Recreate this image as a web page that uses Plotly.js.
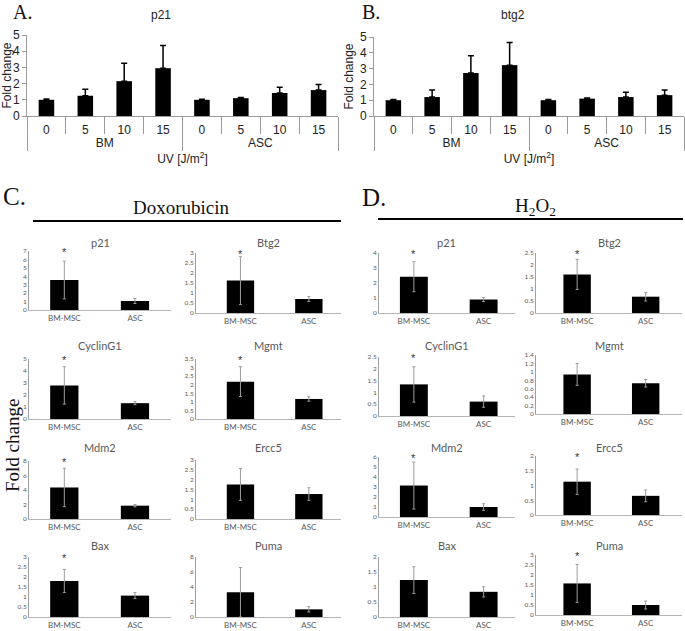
<!DOCTYPE html>
<html><head><meta charset="utf-8">
<script src="https://cdn.plot.ly/plotly-3.0.1.min.js"></script>
<style>html,body{margin:0;padding:0;background:#fff}#chart{width:685px;height:631px}</style>
</head><body><div id="chart"></div>
<script>
// ---------- DATA ----------
const uvGroups = ['BM','BM','BM','BM','ASC','ASC','ASC','ASC'];
const uvDoses  = ['0','5','10','15','0','5','10','15'];
const p21UV     = [1.0, 1.25, 2.15, 2.95, 1.0, 1.1, 1.42, 1.6];
const p21UVErr  = [0.05, 0.4, 1.1, 1.4, 0.04, 0.04, 0.36, 0.35];
const btg2UV    = [1.0, 1.2, 2.72, 3.22, 1.0, 1.1, 1.2, 1.32];
const btg2UVErr = [0.04, 0.45, 1.1, 1.43, 0.04, 0.04, 0.3, 0.33];

const cells = ['BM-MSC','ASC'];
const genes = ['p21','Btg2','CyclinG1','Mgmt','Mdm2','Ercc5','Bax','Puma'];

const doxBM     = [3.56, 1.62, 2.8, 2.18, 4.35, 1.76, 1.8, 3.3];
const doxBMErr  = [2.24, 1.2, 1.56, 0.87, 2.65, 0.81, 0.58, 3.3];
const doxASC    = [1.07, 0.7, 1.32, 1.17, 1.84, 1.27, 1.07, 1.02];
const doxASCErr = [0.3, 0.12, 0.13, 0.13, 0.16, 0.32, 0.15, 0.35];
const doxSig    = [true, true, true, true, true, false, true, false];
const doxYMax   = [7, 3, 5, 3.5, 8, 3, 3, 8];
const doxYStep  = [1, 0.5, 1, 0.5, 2, 0.5, 0.5, 2];

const h2BM      = [2.42, 1.61, 1.34, 0.94, 3.15, 1.13, 1.23, 1.58];
const h2BMErr   = [1.0, 0.63, 0.75, 0.26, 2.35, 0.43, 0.45, 0.95];
const h2ASC     = [0.9, 0.68, 0.61, 0.73, 1.0, 0.65, 0.84, 0.5];
const h2ASCErr  = [0.14, 0.18, 0.24, 0.09, 0.33, 0.2, 0.17, 0.2];
const h2Sig     = [true, true, true, false, true, true, false, true];
const h2YMax    = [4, 2.5, 2.5, 1.4, 6, 2, 2, 3];
const h2YStep   = [1, 0.5, 0.5, 0.2, 1, 0.5, 0.5, 0.5];

// ---------- LAYOUT GEOMETRY (pixels) ----------
const W = 685, H = 631;
const px = x => x / W, py = y => 1 - y / H;
const SANS = 'Liberation Sans', SERIF = 'Liberation Serif', CAL = 'Lato';
const GREY = '#595959';

const data = [];
const layout = {
  width: W, height: H, margin: {l: 0, r: 0, t: 0, b: 0},
  paper_bgcolor: '#fff', plot_bgcolor: 'rgba(0,0,0,0)', showlegend: false,
  font: {family: SANS, color: '#222'}, annotations: [], shapes: [], bargap: 0.6
};

function ann(o) { layout.annotations.push(Object.assign({showarrow: false, xref: 'paper', yref: 'paper'}, o)); }

// ---- UV panels A and B ----
function uvPanel(n, vals, errs, xd, yd, title, titleX) {
  const s = n === 1 ? '' : String(n);
  data.push({
    type: 'bar', x: [uvGroups, uvDoses], y: vals, xaxis: 'x' + s, yaxis: 'y' + s, width: 0.4,
    marker: {color: '#000', line: {width: 0}},
    error_y: {type: 'data', symmetric: false, array: errs, arrayminus: errs.map(() => 0),
              color: '#000', thickness: 1.5, width: 3},
    hoverinfo: 'skip'
  });
  layout['xaxis' + s] = {
    type: 'multicategory', domain: [px(xd[0]), px(xd[1])], anchor: 'y' + s,
    showline: true, linecolor: '#9a9a9a', linewidth: 1,
    ticks: 'outside', tickson: 'boundaries', ticklen: 17, tickcolor: '#9a9a9a', tickwidth: 1,
    ticklabelstandoff: 3,
    showdividers: true, dividercolor: '#9a9a9a', dividerwidth: 1,
    tickfont: {family: SANS, size: 12, color: '#222'}, showgrid: false,
    title: {text: 'UV [J/m<sup>2</sup>]', font: {family: SANS, size: 12, color: '#222'}, standoff: 5}
  };
  layout['yaxis' + s] = {
    domain: [py(yd[1]), py(yd[0])], anchor: 'x' + s, range: [0, 5.001], dtick: 1,
    showline: true, linecolor: '#9a9a9a', ticks: 'outside', ticklen: 4, tickcolor: '#9a9a9a',
    showgrid: false, zeroline: false, tickfont: {family: SANS, size: 12, color: '#222'},
    title: {text: 'Fold change', font: {family: SANS, size: 12, color: '#222'}, standoff: 3}
  };
  ann({x: px(titleX), y: py(15), text: title, font: {family: SANS, size: 12, color: '#222'}, xanchor: 'center', yanchor: 'middle'});
}
uvPanel(1, p21UV, p21UVErr, [27, 338], [35, 116], 'p21', 161);
uvPanel(2, btg2UV, btg2UVErr, [374, 684], [37, 116], 'btg2', 513);

// ---- small panels C and D ----
const doxCols = [[29, 171, -0.5, 1.51], [196, 341, -0.65, 1.47]];
const h2Cols  = [[379, 515, -0.5, 1.45], [536, 682, -0.6, 1.53]];
const doxRows = [[251,310],[253,313],[359,419],[359,419],[461,519],[460,519],[557,617],[557,617]];
const h2Rows  = [[253,313],[253,313],[357,416],[355,414],[457,517],[456,515],[557,617],[555,615]];
const titleRowY = [242, 345, 447, 545];

let axN = 3;
function smallSet(bm, bmE, asc, ascE, sig, ymax, ystep, cols, rows) {
  genes.forEach((g, i) => {
    const s = String(axN++);
    const col = cols[i % 2], row = rows[i];
    data.push({
      type: 'bar', x: cells, y: [bm[i], asc[i]], xaxis: 'x' + s, yaxis: 'y' + s, width: 0.4,
      marker: {color: '#000', line: {width: 0}},
      error_y: {type: 'data', array: [bmE[i], ascE[i]], color: '#9c9c9c', thickness: 1, width: 1.5},
      hoverinfo: 'skip'
    });
    layout['xaxis' + s] = {
      type: 'category', domain: [px(col[0]), px(col[1])], anchor: 'y' + s, range: [col[2], col[3]],
      showline: true, linecolor: '#b5b5b5', linewidth: 1.3, ticks: '', showgrid: false,
      tickfont: {family: CAL, size: 8, color: GREY}
    };
    layout['yaxis' + s] = {
      domain: [py(row[1]), py(row[0])], anchor: 'x' + s, range: [0, ymax[i] * 1.0005], dtick: ystep[i],
      showline: true, linecolor: '#a0a0a0', linewidth: 1, ticks: '', showgrid: false, zeroline: false,
      tickfont: {family: CAL, size: 6.5, color: GREY}
    };
    ann({xref: 'x' + s + ' domain', x: 0.5, y: py(titleRowY[Math.floor(i / 2)]), text: g,
         font: {family: CAL, size: 11, color: GREY}, xanchor: 'center', yanchor: 'middle'});
    if (sig[i]) {
      ann({xref: 'x' + s, yref: 'y' + s + ' domain', x: 0, y: 1, text: '*',
           font: {family: SANS, size: 11, color: '#333'}, xanchor: 'center', yanchor: 'middle', yshift: -1});
    }
  });
}
smallSet(doxBM, doxBMErr, doxASC, doxASCErr, doxSig, doxYMax, doxYStep, doxCols, doxRows);
smallSet(h2BM, h2BMErr, h2ASC, h2ASCErr, h2Sig, h2YMax, h2YStep, h2Cols, h2Rows);

// ---- panel letters, headings, rules ----
ann({x: px(11), y: py(12), text: 'A.', font: {family: SERIF, size: 20, color: '#111'}, xanchor: 'left', yanchor: 'middle'});
ann({x: px(360), y: py(12), text: 'B.', font: {family: SERIF, size: 20, color: '#111'}, xanchor: 'left', yanchor: 'middle'});
ann({x: px(1), y: py(196), text: 'C.', font: {family: SERIF, size: 25, color: '#111'}, xanchor: 'left', yanchor: 'middle'});
ann({x: px(360), y: py(197), text: 'D.', font: {family: SERIF, size: 25, color: '#111'}, xanchor: 'left', yanchor: 'middle'});
ann({x: px(181), y: py(207), text: 'Doxorubicin', font: {family: SERIF, size: 19, color: '#111'}, xanchor: 'center', yanchor: 'middle'});
ann({x: px(535), y: py(207), text: 'H<sub>2</sub>O<sub>2</sub>', font: {family: SERIF, size: 19, color: '#111'}, xanchor: 'center', yanchor: 'middle'});
ann({x: px(12), y: py(446), text: 'Fold change', textangle: -90, font: {family: SERIF, size: 19, color: '#111'}, xanchor: 'center', yanchor: 'middle'});
layout.shapes.push({type: 'line', xref: 'paper', yref: 'paper', x0: px(33), x1: px(341), y0: py(221), y1: py(221), line: {color: '#000', width: 2}});
layout.shapes.push({type: 'line', xref: 'paper', yref: 'paper', x0: px(378), x1: px(683), y0: py(219), y1: py(219), line: {color: '#000', width: 2}});

Plotly.newPlot('chart', data, layout, {staticPlot: true, displayModeBar: false});
</script>
</body></html>
